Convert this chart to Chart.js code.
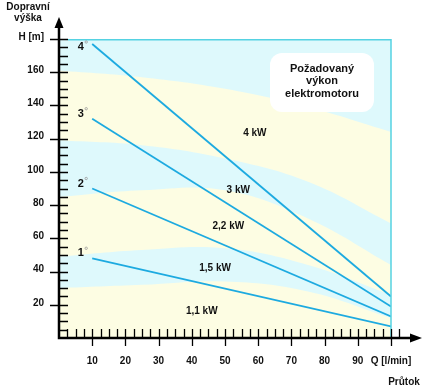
<!DOCTYPE html>
<html><head><meta charset="utf-8">
<script src="https://cdn.jsdelivr.net/npm/chart.js@4/dist/chart.umd.min.js"></script>
<style>html,body{margin:0;padding:0;background:#fff;}canvas{display:block;}</style>
</head><body>
<canvas id="c" width="432" height="392"></canvas>
<script>
// ---- data ----
const flowQ = [10, 100];              // Q [l/min], start and end of each curve
const curve4 = [177, 25];             // H [m]
const curve3 = [132, 19];
const curve2 = [90, 13];
const curve1 = [48, 7];
const curveNames = ['4', '3', '2', '1'];
const powerLabels = ['4 kW', '3 kW', '2,2 kW', '1,5 kW', '1,1 kW'];
const powerLabelQ = [59, 54, 51, 47, 43];
const powerLabelH = [123, 89, 67, 42, 16];
// power zone boundaries (H at Q)
const bandQ = [0, 25, 50, 75, 100];
const bandA = [161, 157, 150, 139, 124];
const bandB = [119, 116, 108, 94, 69];
const bandC = [85, 89, 89, 72, 44];
const bandD = [49, 53, 54, 44, 26];
const bandE = [30, 32, 34, 28, 12];
const xTickValues = [10, 20, 30, 40, 50, 60, 70, 80, 90];
const xEndLabel = 'Q [l/min]';
const yTickValues = [20, 40, 60, 80, 100, 120, 140, 160];
const yEndLabel = 'H [m]';
const legendLines = ['Požadovaný', 'výkon', 'elektromotoru'];
const yTitle = ['Dopravní', 'výška'];
const xTitle = 'Průtok';

// ---- styles ----
const CYAN = '#DEF9FC';
const YELLOW = '#FDFDE3';
const LINE = '#1DAAE0';
const BORDER = '#55D2E2';
const FONT = '"Liberation Sans", Arial, sans-serif';

const pts = (xs, ys) => xs.map((x, i) => ({x, y: ys[i]}));
const bandDs = (ys, fill, color) => ({
  data: pts(bandQ, ys), borderWidth: 0, pointRadius: 0, tension: 0.4, order: 10,
  fill: fill, backgroundColor: color, borderColor: 'rgba(0,0,0,0)'
});
const lineDs = ys => ({
  data: pts(flowQ, ys), borderColor: LINE, borderWidth: 1.8, pointRadius: 0, fill: false, order: 0
});
const curves = [curve4, curve3, curve2, curve1];

const deco = {
  id: 'deco',
  beforeDraw(chart) {
    const {ctx, chartArea: a} = chart;
    ctx.save();
    ctx.fillStyle = YELLOW;
    ctx.fillRect(a.left, a.top, a.right - a.left, a.bottom - a.top);
    ctx.restore();
  },
  afterDraw(chart) {
    const {ctx, chartArea: a} = chart;
    const xs = chart.scales.x, ys = chart.scales.y;
    ctx.save();
    // cyan frame top and right
    ctx.strokeStyle = BORDER; ctx.lineWidth = 1.5;
    ctx.beginPath();
    ctx.moveTo(a.left + 9, ys.getPixelForValue(180) + 0.75);
    ctx.lineTo(xs.getPixelForValue(100), ys.getPixelForValue(180) + 0.75);
    ctx.lineTo(xs.getPixelForValue(100), a.bottom);
    ctx.stroke();

    // axes
    ctx.strokeStyle = '#000'; ctx.fillStyle = '#000'; ctx.lineWidth = 2.5;
    const ax = a.left, ay = a.bottom;
    ctx.beginPath();
    ctx.moveTo(ax, ay + 1.2); ctx.lineTo(ax, 25);
    ctx.moveTo(ax - 1.2, ay); ctx.lineTo(412, ay);
    ctx.stroke();
    ctx.beginPath();
    ctx.moveTo(ax, 17); ctx.lineTo(ax - 4.5, 28); ctx.lineTo(ax + 4.5, 28); ctx.closePath(); ctx.fill();
    ctx.beginPath();
    ctx.moveTo(422, ay); ctx.lineTo(410, ay - 4.5); ctx.lineTo(410, ay + 4.5); ctx.closePath(); ctx.fill();

    // ticks
    ctx.lineWidth = 1.3;
    ctx.beginPath();
    for (let v = 5; v <= 180; v += 5) {
      const p = Math.round(ys.getPixelForValue(v)) + 0.5;
      const major = v % 20 === 0;
      ctx.moveTo(major ? ax - 9 : ax, p); ctx.lineTo(ax + 9, p);
    }
    for (let v = 2.5; v <= 102.5; v += 2.5) {
      const p = Math.round(xs.getPixelForValue(v)) + 0.5;
      const major = v % 10 === 0;
      ctx.moveTo(p, ay - 9); ctx.lineTo(p, major ? ay + 8 : ay);
    }
    ctx.stroke();

    // curve numbers
    ctx.fillStyle = '#111';
    ctx.textAlign = 'center'; ctx.textBaseline = 'middle';
    curves.forEach((c, i) => {
      const px = xs.getPixelForValue(flowQ[0]) - 11.5;
      let py = ys.getPixelForValue(c[0]) - 5;
      if (py < a.top + 8) py = a.top + 8;
      ctx.font = 'bold 11px ' + FONT;
      ctx.fillText(curveNames[i], px, py);
      ctx.strokeStyle = '#999'; ctx.lineWidth = 0.8;
      ctx.beginPath(); ctx.arc(px + 5.5, py - 5, 1.2, 0, Math.PI * 2); ctx.stroke();
    });

    // power labels
    ctx.font = 'bold 10px ' + FONT;
    powerLabels.forEach((t, i) => {
      ctx.fillText(t, xs.getPixelForValue(powerLabelQ[i]), ys.getPixelForValue(powerLabelH[i]));
    });

    // legend box
    const bx = 270, by = 53, bw = 104, bh = 59, r = 12;
    ctx.fillStyle = '#FFFFFF';
    ctx.beginPath();
    ctx.roundRect(bx, by, bw, bh, r);
    ctx.fill();
    ctx.fillStyle = '#111';
    ctx.font = 'bold 11px ' + FONT;
    legendLines.forEach((t, i) => ctx.fillText(t, bx + bw / 2, 68.5 + i * 12.7));

    // axis titles
    ctx.font = 'bold 10px ' + FONT;
    ctx.fillText(yTitle[0], 28, 7.5);
    ctx.fillText(yTitle[1], 28, 18.5);
    ctx.fillText(xTitle, 404, 382);
    ctx.restore();
  }
};

new Chart(document.getElementById('c'), {
  type: 'line',
  data: {
    datasets: [
      bandDs(bandA, 'end', CYAN),
      bandDs(bandB, false, 'rgba(0,0,0,0)'),
      bandDs(bandC, 1, CYAN),
      bandDs(bandD, false, 'rgba(0,0,0,0)'),
      bandDs(bandE, 3, CYAN),
      lineDs(curve4), lineDs(curve3), lineDs(curve2), lineDs(curve1)
    ]
  },
  options: {
    responsive: false, animation: false, devicePixelRatio: 1,
    layout: {padding: {top: 39, right: 41, left: 0, bottom: 0}},
    plugins: {legend: {display: false}, tooltip: {enabled: false}},
    scales: {
      x: {
        type: 'linear', min: 0, max: 100,
        grid: {display: false, drawTicks: false}, border: {display: false},
        afterFit: s => { s.height = 54; },
        ticks: {
          stepSize: 10, padding: 17, maxRotation: 0, minRotation: 0, autoSkip: false,
          color: '#111', font: {family: FONT, size: 10, weight: 'bold'},
          callback: v => v === 100 ? xEndLabel : (xTickValues.includes(v) ? String(v) : '')
        }
      },
      y: {
        type: 'linear', min: 0, max: 180,
        grid: {display: false, drawTicks: false}, border: {display: false},
        afterFit: s => { s.width = 59; },
        ticks: {
          stepSize: 20, padding: 15, labelOffset: -2, autoSkip: false,
          color: '#111', font: {family: FONT, size: 10, weight: 'bold'},
          callback: v => v === 180 ? yEndLabel : (yTickValues.includes(v) ? String(v) : '')
        }
      }
    }
  },
  plugins: [deco]
});
</script>
</body></html>
